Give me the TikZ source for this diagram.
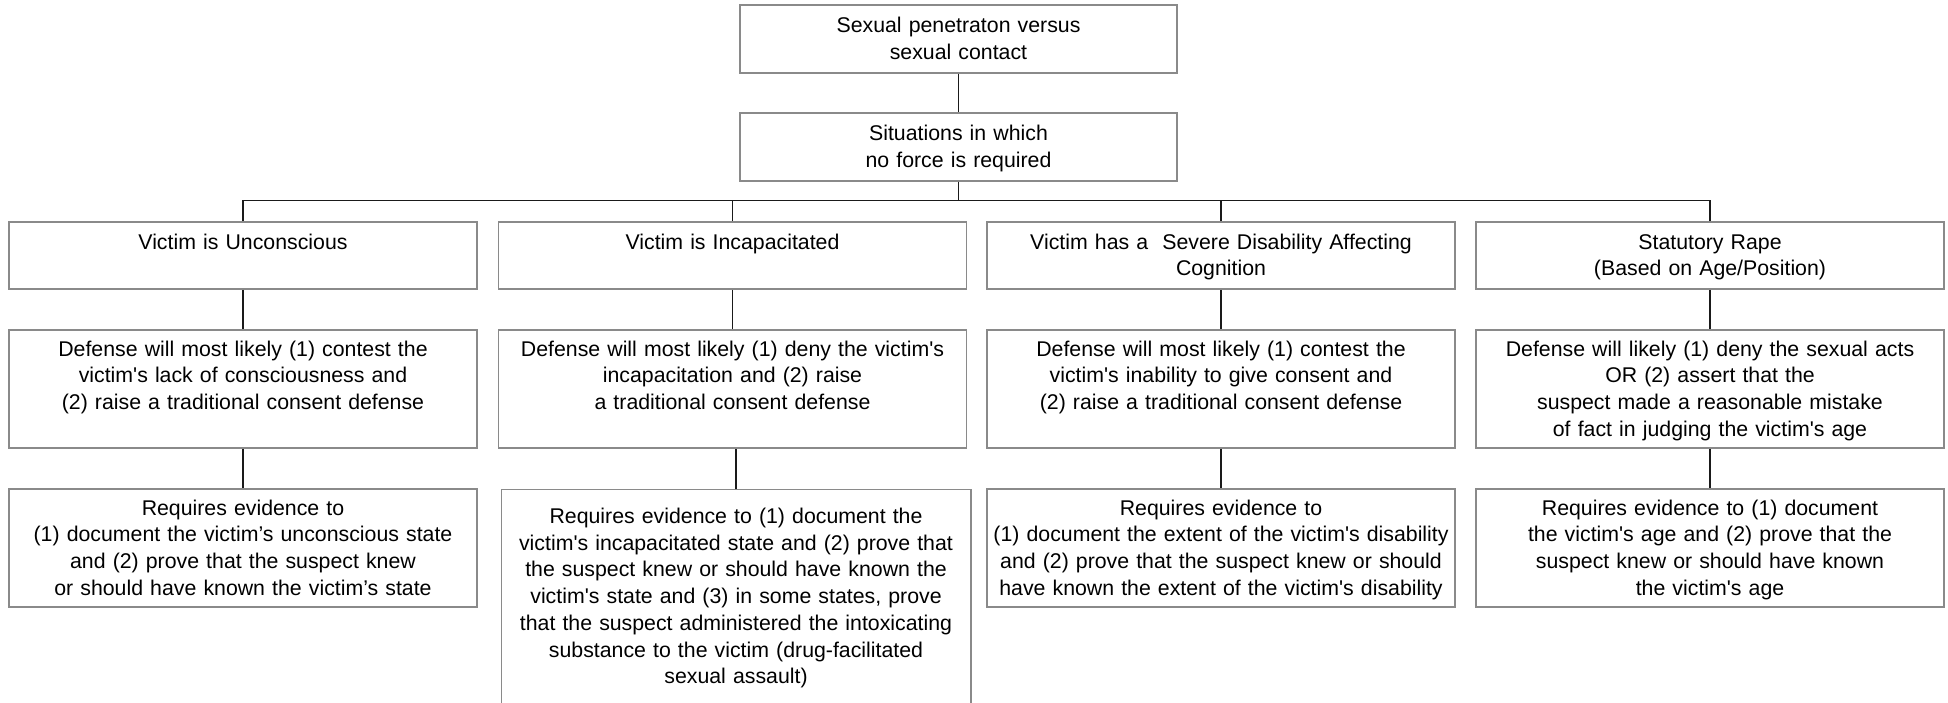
\documentclass[tikz,border=0pt]{standalone}
\usepackage{fontspec}
\newfontfamily\arialf{Liberation Sans}
\newcommand{\sst}{\rule[-6.2pt]{0pt}{26.7pt}}
\definecolor{boxgray}{HTML}{8A8A8A}
\definecolor{linkdark}{HTML}{1A1A1A}
\begin{document}
\begin{tikzpicture}[x=1pt,y=-1pt,
  box/.style={draw=boxgray, line width=1.5pt, inner sep=0pt, align=center,
    text width=468pt, minimum height=118pt,
    font=\arialf\fontsize{21.3pt}{26.7pt}\selectfont,
    execute at begin node=\sst, execute at end node=\sst},
  boxline/.style={draw=boxgray, line width=1.5pt},
  link/.style={draw=linkdark, line width=1.2pt}]
\useasboundingbox[fill=white] (0,0) rectangle (1948,703);

\node[box, text width=437pt, minimum height=68pt] (top) at (958.5,39) {Sexual penetraton versus\\sexual contact};
\node[box, text width=437pt, minimum height=68pt] (sit) at (958.5,147) {Situations in which\\no force is required};

\node[box, minimum height=67pt] (v1) at (243,255.5) {Victim is Unconscious\\};
\node[box, minimum height=67pt] (v2) at (732.5,255.5) {Victim is Incapacitated\\};
\node[box, minimum height=67pt] (v3) at (1221,255.5) {Victim has a\ \ Severe Disability Affecting\\Cognition};
\node[box, minimum height=67pt] (v4) at (1710,255.5) {Statutory Rape\\(Based on Age/Position)};

\node[box] (d1) at (243,389) {Defense will most likely (1) contest the\\victim's lack of consciousness and\\(2) raise a traditional consent defense\\};
\node[box] (d2) at (732.5,389) {Defense will most likely (1) deny the victim's\\incapacitation and (2) raise\\a traditional consent defense\\};
\node[box] (d3) at (1221,389) {Defense will most likely (1) contest the\\victim's inability to give consent and\\(2) raise a traditional consent defense\\};
\node[box] (d4) at (1710,389) {Defense will likely (1) deny the sexual acts\\OR (2) assert that the\\suspect made a reasonable mistake\\of fact in judging the victim's age};

\node[box] (e1) at (243,548) {Requires evidence to\\(1) document the victim’s unconscious state\\and (2) prove that the suspect knew\\or should have known the victim’s state};
\node[box, draw=none, minimum height=213pt] (e2) at (736,596.5) {Requires evidence to (1) document the\\victim's incapacitated state and (2) prove that\\the suspect knew or should have known the\\victim's state and (3) in some states, prove\\that the suspect administered the intoxicating\\substance to the victim (drug-facilitated\\sexual assault)};
\draw[boxline] ([yshift=-6pt]e2.south west) -- (e2.north west) -- (e2.north east) -- ([yshift=-6pt]e2.south east);
\node[box] (e3) at (1221,548) {Requires evidence to\\(1) document the extent of the victim's disability\\and (2) prove that the suspect knew or should\\have known the extent of the victim's disability};
\node[box] (e4) at (1710,548) {Requires evidence to (1) document\\the victim's age and (2) prove that the\\suspect knew or should have known\\the victim's age};

\coordinate (bus) at (958.5,200.5);
\draw[link] (top) -- (sit);
\draw[link] (sit.south) -- (bus);
\draw[link] (v1.north) |- (bus) -| (v4.north);
\draw[link] (v2.north) -- (v2.north |- bus);
\draw[link] (v3.north) -- (v3.north |- bus);
\draw[link] (v1) -- (d1);
\draw[link] (v2) -- (d2);
\draw[link] (v3) -- (d3);
\draw[link] (v4) -- (d4);
\draw[link] (d1) -- (e1);
\draw[link] (e2.north) -- (e2.north |- d2.south);
\draw[link] (d3) -- (e3);
\draw[link] (d4) -- (e4);
\end{tikzpicture}
\end{document}
